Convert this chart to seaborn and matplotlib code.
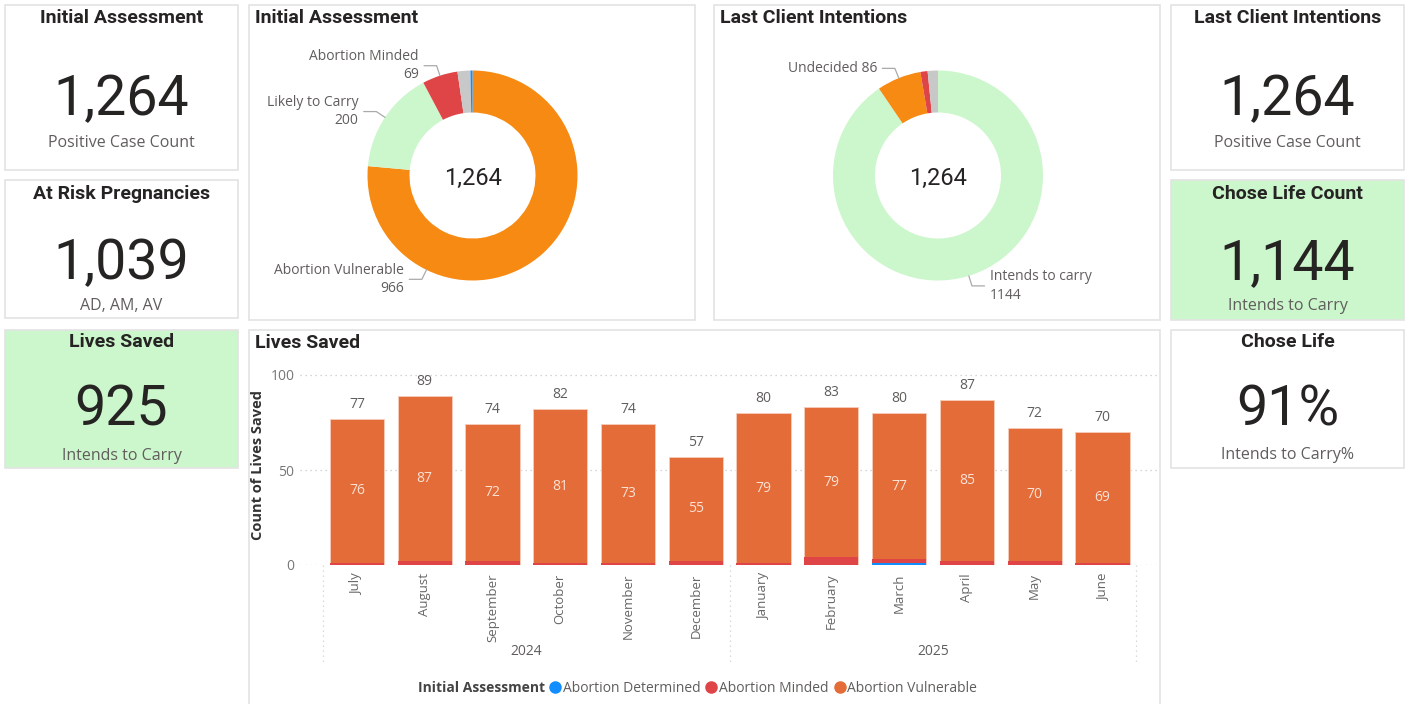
import numpy as np
import pandas as pd
import matplotlib
matplotlib.use('Agg')
import matplotlib.pyplot as plt
import seaborn as sb
from matplotlib.patches import Rectangle
from matplotlib.lines import Line2D

# ── data ──
months = ['July', 'August', 'September', 'October', 'November', 'December',
          'January', 'February', 'March', 'April', 'May', 'June']
years = ['2024', '2025']
abortion_determined = [0, 0, 0, 0, 0, 0, 0, 0, 1, 0, 0, 0]
abortion_minded = [1, 2, 2, 1, 1, 2, 1, 4, 2, 2, 2, 1]
abortion_vulnerable = [76, 87, 72, 81, 73, 55, 79, 79, 77, 85, 70, 69]

ia_labels = ['Abortion Vulnerable', 'Likely to Carry', 'Abortion Minded', '(Blank)', 'Abortion Determined']
ia_values = [966, 200, 69, 25, 4]
lci_labels = ['Intends to carry', 'Undecided', 'Abortion Minded', '(Blank)']
lci_values = [1144, 86, 14, 20]

card_titles = ['Initial Assessment', 'At Risk Pregnancies', 'Lives Saved',
               'Last Client Intentions', 'Chose Life Count', 'Chose Life']
card_values = ['1,264', '1,039', '925', '1,264', '1,144', '91%']
card_subs = ['Positive Case Count', 'AD, AM, AV', 'Intends to Carry',
             'Positive Case Count', 'Intends to Carry', 'Intends to Carry%']

colors = {
    'text': '#252423', 'muted': '#605E5C', 'border': '#E3E3E3', 'green': '#CCF6CC',
    'orange_pie': '#F68A12', 'orange_bar': '#E46C38', 'red': '#DF4447',
    'blue': '#118DFF', 'grey': '#C8C8C8', 'light': '#CCF6CC', 'grid': '#C8C8C8',
}

sb.set_theme(style='white')
DIN = 'Roboto'
plt.rcParams['font.family'] = ['Open Sans', 'DejaVu Sans']

W, H = 1408, 704
fig = plt.figure(figsize=(W / 100, H / 100), dpi=100)
fig.patch.set_facecolor('white')


def px_rect(x0, y0, x1, y1):
    return [x0 / W, 1 - y1 / H, (x1 - x0) / W, (y1 - y0) / H]


bg = fig.add_axes([0, 0, 1, 1])
bg.set_xlim(0, W)
bg.set_ylim(H, 0)
bg.axis('off')

# ── panels / cards ──
card_boxes = [(5, 5, 238, 170), (5, 180, 238, 318), (5, 330, 238, 468),
              (1171, 5, 1404, 170), (1171, 180, 1404, 320), (1171, 330, 1404, 468)]
card_green = [False, False, True, False, True, False]
# title / value / subtitle rows (px from top)
card_rows = [(18, 98, 143), (194, 262, 306), (342, 408, 456),
             (18, 98, 143), (194, 262, 306), (342, 408, 455)]
panel_boxes = [(249, 5, 695, 320), (714, 5, 1160, 320), (249, 330, 1160, 710)]

for (x0, y0, x1, y1), g in zip(card_boxes, card_green):
    bg.add_patch(Rectangle((x0, y0), x1 - x0, y1 - y0,
                           facecolor=colors['green'] if g else 'white',
                           edgecolor=colors['border'], linewidth=1.2))
for (x0, y0, x1, y1) in panel_boxes:
    bg.add_patch(Rectangle((x0, y0), x1 - x0, y1 - y0, facecolor='white',
                           edgecolor=colors['border'], linewidth=1.2))

for (x0, y0, x1, y1), (ty, vy, sy), t, v, s in zip(card_boxes, card_rows, card_titles,
                                                    card_values, card_subs):
    cx = (x0 + x1) / 2
    bg.text(cx, ty, t, ha='center', va='center', fontsize=14,
            family=DIN, color=colors['text'], fontweight='bold')
    bg.text(cx, vy + 2, v, ha='center', va='center', fontsize=40,
            family=DIN, color=colors['text'])
    bg.text(cx, sy, s, ha='center', va='center', fontsize=11.5, color=colors['muted'])

# panel titles
for x, y, t in [(255, 18, 'Initial Assessment'), (720, 18, 'Last Client Intentions'),
                (255, 343, 'Lives Saved')]:
    bg.text(x, y, t, ha='left', va='center', fontsize=14, family=DIN,
            color=colors['text'], fontweight='bold')


# ── donuts ──
def donut(cx, cy, r, values, cols, labels_to_show):
    ax = fig.add_axes(px_rect(cx - r, cy - r, cx + r, cy + r))
    ax.pie(values, colors=cols, startangle=90, counterclock=False, radius=1,
           wedgeprops=dict(width=0.4, edgecolor='none'))
    ax.set_xlim(-1, 1)
    ax.set_ylim(-1, 1)
    ax.set_aspect('equal')
    ax.axis('off')
    ax.text(0, -0.03, f'{sum(values):,}', ha='center', va='center', fontsize=17,
            family=DIN, color=colors['text'])
    fr = np.cumsum([0] + list(values)) / sum(values) * 360
    for idx, text, angle, side in labels_to_show:
        a = np.deg2rad(angle if angle is not None else (fr[idx] + fr[idx + 1]) / 2)
        p0 = np.array([np.sin(a), np.cos(a)])
        p1 = p0 * 1.1
        sgn = -1 if side == 'left' else 1
        p2 = p1 + np.array([sgn * 0.12, 0])
        ax.plot([p0[0], p1[0], p2[0]], [p0[1], p1[1], p2[1]], color='#AAAAAA',
                lw=0.9, clip_on=False)
        ax.text(p2[0] + sgn * 0.05, p1[1], text, ha='right' if side == 'left' else 'left',
                va='center', fontsize=10, color=colors['muted'], linespacing=1.3,
                clip_on=False)
    return ax


ia_cols = [colors['orange_pie'], colors['light'], colors['red'], colors['grey'], colors['blue']]
donut(472.5, 175.5, 105, ia_values, ia_cols,
      [(0, f'{ia_labels[0]}\n{ia_values[0]}', 206, 'left'),
       (1, f'{ia_labels[1]}\n{ia_values[1]}', None, 'left'),
       (2, f'{ia_labels[2]}\n{ia_values[2]}', None, 'left')])

lci_cols = [colors['light'], colors['orange_pie'], colors['red'], colors['grey']]
donut(938, 175.5, 105, lci_values, lci_cols,
      [(0, f'{lci_labels[0]}\n{lci_values[0]}', None, 'right'),
       (1, f'{lci_labels[1]} {lci_values[1]}', None, 'left')])

# ── stacked bars ──
df = pd.DataFrame({'month': months, 'AD': abortion_determined,
                   'AM': abortion_minded, 'AV': abortion_vulnerable})
df['total'] = df['AD'] + df['AM'] + df['AV']
df['ad_am'] = df['AD'] + df['AM']

ax = fig.add_axes(px_rect(300, 365.5, 1158, 565))
sb.barplot(data=df, x='month', y='total', color=colors['orange_bar'], saturation=1,
           width=0.8, ax=ax, edgecolor='#F6CDBB', linewidth=0.6)
sb.barplot(data=df, x='month', y='ad_am', color=colors['red'], saturation=1,
           width=0.8, ax=ax, linewidth=0)
sb.barplot(data=df, x='month', y='AD', color=colors['blue'], saturation=1,
           width=0.8, ax=ax, linewidth=0)
ax.set_xlim(-0.84, 11.82)
ax.set_ylim(0, 105)
ax.set_yticks([0, 50, 100])
for yv in [0, 50, 100]:
    ax.axhline(yv, color=colors['grid'], linestyle=(0, (1, 3)), linewidth=0.9, zorder=0)
for s in ax.spines.values():
    s.set_visible(False)
ax.tick_params(axis='y', length=0, pad=4, labelsize=10, labelcolor='#777777')
ax.tick_params(axis='x', length=0, pad=6, labelsize=9.5, labelcolor='#666666',
               rotation=90)
ax.set_xlabel('')
ax.set_ylabel('Count of Lives Saved', fontsize=10.5, fontweight='bold',
              color='#333333', labelpad=4)

for i, row in df.iterrows():
    ax.annotate(f"{row['total']}", (i, row['total']), xytext=(0, 5),
                textcoords='offset points', ha='center', va='bottom',
                fontsize=10, color=colors['muted'])
    ax.text(i, row['ad_am'] + row['AV'] / 2, f"{row['AV']}", ha='center', va='center',
            fontsize=10, color='#FBE2D5')

# year hierarchy
trans = matplotlib.transforms.blended_transform_factory(ax.transData, ax.transAxes)
for xs in [-0.5, 5.5, 11.5]:
    ax.plot([xs, xs], [0, -0.5], transform=trans, color='#D0D0D0',
            linestyle=(0, (1, 3)), linewidth=0.9, clip_on=False)
for k, yr in enumerate(years):
    ax.text(2.5 + 6 * k, -0.435, yr, transform=trans, ha='center', va='center',
            fontsize=10, color=colors['muted'])

# legend
bg.text(545, 688, 'Initial Assessment', ha='right', va='center', fontsize=10,
        fontweight='bold', color='#444444')
handles = [Line2D([], [], marker='o', ls='', color=c, markersize=8)
           for c in [colors['blue'], colors['red'], colors['orange_bar']]]
fig.legend(handles, ['Abortion Determined', 'Abortion Minded', 'Abortion Vulnerable'],
           loc='center left', bbox_to_anchor=(548 / W, 1 - 688 / H), ncol=3,
           frameon=False, handletextpad=0.05, columnspacing=0.3, handlelength=1,
           fontsize=10, labelcolor=colors['muted'], borderaxespad=0, borderpad=0)

fig.savefig('out.png', dpi=100, facecolor='white')
